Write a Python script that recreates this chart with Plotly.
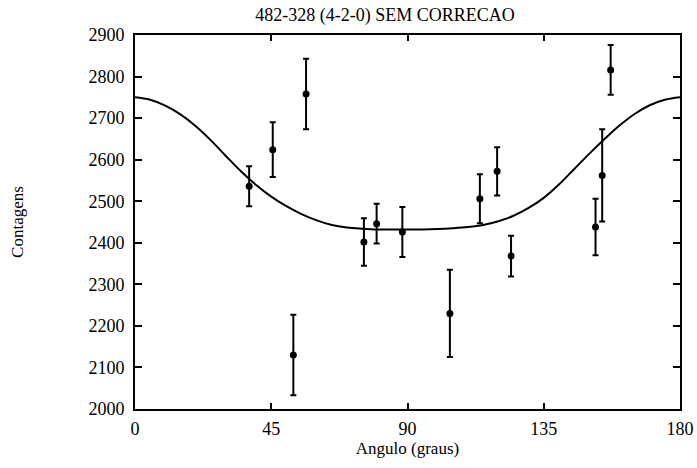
import plotly.graph_objects as go

# Measured points
angles = [37.7, 45.5, 52.3, 56.5, 75.6, 79.8, 88.3, 104.0, 113.9, 119.6, 124.2, 152.1, 154.3, 157.1]
counts = [2536, 2624, 2130, 2758, 2402, 2446, 2426, 2230, 2506, 2572, 2368, 2438, 2562, 2816]
errors = [48, 66, 97, 85, 57, 48, 60, 105, 59, 58, 49, 68, 111, 60]

# Fitted curve
fit_angles = [0, 5, 10, 15, 20, 25, 30, 35, 40, 45, 50, 55, 60, 65, 70, 75, 80, 85, 90,
              95, 100, 105, 110, 115, 120, 125, 130, 135, 140, 145, 150, 155, 160, 165, 170, 175, 180]
fit_counts = [2750, 2744, 2730, 2709, 2681, 2647, 2609, 2572, 2539, 2511, 2488, 2469, 2454, 2443, 2437, 2434, 2432, 2432, 2432,
              2432, 2433, 2435, 2438, 2443, 2452, 2465, 2484, 2508, 2540, 2577, 2614, 2649, 2682, 2710, 2731, 2744, 2750]

x_ticks = [0, 45, 90, 135, 180]
y_ticks = [2000, 2100, 2200, 2300, 2400, 2500, 2600, 2700, 2800, 2900]

FONT = "Liberation Serif"

fig = go.Figure()
fig.add_trace(go.Scatter(
    x=fit_angles, y=fit_counts, mode="lines",
    line=dict(color="black", width=2, shape="spline", smoothing=1.0),
    hoverinfo="skip", showlegend=False))
fig.add_trace(go.Scatter(
    x=angles, y=counts, mode="markers",
    marker=dict(color="black", size=7, symbol="circle"),
    error_y=dict(type="data", array=errors, visible=True, color="black", thickness=2, width=3),
    showlegend=False))

fig.update_layout(
    width=697, height=468,
    margin=dict(l=135, r=17, t=35, b=59),
    paper_bgcolor="white", plot_bgcolor="white",
    font=dict(family=FONT, color="black", size=18),
    title=dict(text="482-328 (4-2-0) SEM CORRECAO", x=385 / 697,
               xanchor="center", y=1 - 15 / 468, yanchor="middle",
               font=dict(family=FONT, size=18, color="black")),
)
fig.update_xaxes(
    range=[0, 180], tickvals=x_ticks, ticktext=[str(v) for v in x_ticks],
    ticks="inside", ticklen=6, tickwidth=1.5, tickcolor="black",
    showline=True, linecolor="black", linewidth=2, mirror="ticks",
    showgrid=False, zeroline=False, automargin=False, ticklabelstandoff=2,
    tickfont=dict(family=FONT, size=18, color="black"),
    title=dict(text="Angulo (graus)", font=dict(family=FONT, size=17, color="black"), standoff=3),
)
fig.update_yaxes(
    range=[2000, 2900], tickvals=y_ticks, ticktext=[str(v) for v in y_ticks],
    ticks="inside", ticklen=7, tickwidth=1.5, tickcolor="black",
    showline=True, linecolor="black", linewidth=2, mirror="ticks",
    showgrid=False, zeroline=False, automargin=False, ticklabelstandoff=5,
    tickfont=dict(family=FONT, size=18, color="black"),
    title=dict(text="Contagens", font=dict(family=FONT, size=17, color="black"), standoff=60),
)

fig.write_html("out.html")
